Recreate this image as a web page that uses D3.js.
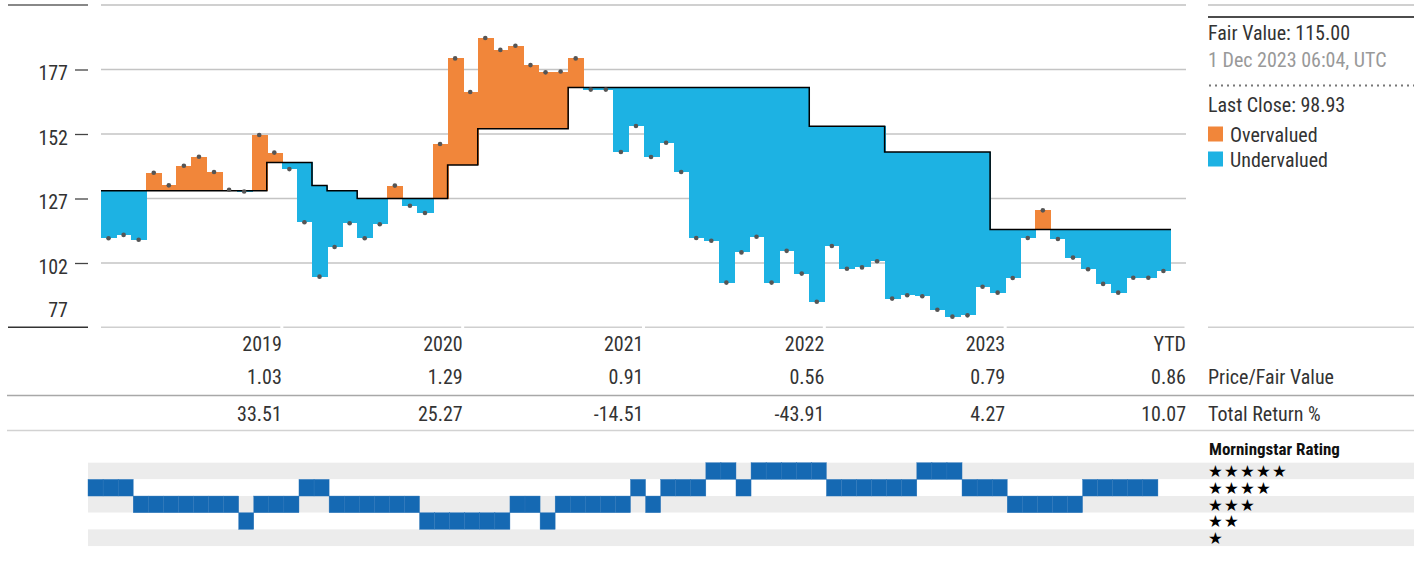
<!DOCTYPE html>
<html><head><meta charset="utf-8">
<script src="https://cdn.jsdelivr.net/npm/d3@7"></script>
<style>html,body{margin:0;padding:0;background:#fff;} svg{display:block;}</style>
</head><body><svg id="c" width="1414" height="562"></svg>
<script>
// ---- data ----
const priceValues = [111.6,112.9,111.0,137.0,132.1,139.7,143.2,137.3,130.4,129.7,
  151.6,144.8,138.4,117.8,96.7,108.2,117.4,111.6,117.0,132.0,
  124.2,121.4,148.1,181.3,168.3,189.2,184.6,186.2,178.7,175.9,
  176.2,181.3,169.2,169.2,145.0,155.1,143.1,148.6,137.3,111.7,
  110.6,94.4,106.1,112.2,94.4,106.7,97.9,87.0,108.6,99.8,
  100.3,102.7,88.2,89.5,89.1,83.9,81.2,81.7,92.8,90.5,
  96.2,111.7,122.4,111.3,104.1,99.6,93.9,90.5,96.3,96.3,98.9];
const fairValues = [130,130,130,130,130,130,130,130,130,130,
  130,141,141,141,132,130,130,127,127,127,
  127,127,127,140,140,154,154,154,154,154,
  154,170,170,170,170,170,170,170,170,170,
  170,170,170,170,170,170,170,155,155,155,
  155,155,145,145,145,145,145,145,145,115,
  115,115,115,115,115,115,115,115,115,115,115];
const starRatings = [4,4,4,3,3,3,3,3,3,3,
  2,3,3,3,4,4,3,3,3,3,
  3,3,2,2,2,2,2,2,3,3,
  2,3,3,3,3,3,4,3,4,4,
  4,5,5,4,5,5,5,5,5,4,
  4,4,4,4,4,5,5,5,4,4,
  4,3,3,3,3,3,4,4,4,4,4];
const monthCount = 72;
const yTicks = [102,127,152,177];
const yBottomLabel = "77";
const tableYears = ["2019","2020","2021","2022","2023","YTD"];
const priceFair = ["1.03","1.29","0.91","0.56","0.79","0.86"];
const totalReturn = ["33.51","25.27","-14.51","-43.91","4.27","10.07"];
const starLabels = ["★★★★★","★★★★","★★★","★★","★"];
const fairValueText = "Fair Value: 115.00";
const dateText = "1 Dec 2023 06:04, UTC";
const lastCloseText = "Last Close: 98.93";
const legendItems = ["Overvalued","Undervalued"];

// ---- setup ----
const FONT = "'Liberation Sans Narrow','Roboto Condensed','DejaVu Sans Condensed','Liberation Sans',sans-serif";
const ORANGE = "#f1863a", BLUE = "#1db2e3", RBLUE = "#1569b3", TXT = "#333";
const svg = d3.select("#c").style("font-family", FONT);

const x = d3.scaleBand().domain(d3.range(monthCount)).range([101, 1186]);
const xr = d3.scaleBand().domain(d3.range(monthCount)).range([88, 1173]);
const step = x.step();
const y = d3.scaleLinear().domain([77, 202]).range([327.5, 5]);

// frame lines
svg.append("line").attr("x1",8).attr("x2",88).attr("y1",5).attr("y2",5).attr("stroke","#888").attr("stroke-width",2);
svg.append("line").attr("x1",101).attr("x2",1186).attr("y1",5).attr("y2",5).attr("stroke","#d0d0d0").attr("stroke-width",2);
svg.append("line").attr("x1",1208).attr("x2",1414).attr("y1",5).attr("y2",5).attr("stroke","#d0d0d0").attr("stroke-width",2);

// gridlines
svg.append("g").selectAll("line").data(yTicks).join("line")
  .attr("x1",101).attr("x2",1186).attr("y1",d=>y(d)).attr("y2",d=>y(d))
  .attr("stroke","#c4c4c4").attr("stroke-width",1.3);

// y axis
const yAxis = d3.axisLeft(y).tickValues(yTicks).tickSize(13).tickPadding(7).tickFormat(d3.format("d"));
const ga = svg.append("g").attr("transform","translate(88,0)").call(yAxis);
ga.select(".domain").remove();
ga.selectAll(".tick line").attr("stroke","#444").attr("stroke-width",1.3);
ga.selectAll(".tick text").attr("fill",TXT).attr("font-size",20).attr("font-family",FONT).attr("dy","0.52em");
svg.append("text").attr("x",68).attr("y",317).attr("text-anchor","end").attr("font-size",20).attr("fill",TXT).text(yBottomLabel);

// fills
svg.append("g").attr("shape-rendering","crispEdges").selectAll("rect").data(priceValues).join("rect")
  .attr("x",(d,i)=>x(i)).attr("width",(d,i)=> i===priceValues.length-1 ? step : step+1)
  .attr("y",(d,i)=>y(Math.max(d,fairValues[i])))
  .attr("height",(d,i)=>Math.abs(y(d)-y(fairValues[i])))
  .attr("fill",(d,i)=> d>=fairValues[i] ? ORANGE : BLUE);

// fair value step line
const fvPts = fairValues.map((v,i)=>[x(i), y(v)]);
fvPts.push([x(fairValues.length-1)+step, y(fairValues[fairValues.length-1])]);
svg.append("path").attr("d", d3.line().curve(d3.curveStepAfter)(fvPts))
  .attr("fill","none").attr("stroke","#000").attr("stroke-width",1.5);

// dots
svg.append("g").selectAll("circle").data(priceValues).join("circle")
  .attr("cx",(d,i)=>x(i)+step/2).attr("cy",d=>y(d)).attr("r",2.3).attr("fill","#555");

// table
const colEdge = k => 101 + step*12*k;
svg.append("line").attr("x1",8).attr("x2",88).attr("y1",327.3).attr("y2",327.3).attr("stroke","#333").attr("stroke-width",1.5);
svg.append("g").selectAll("line").data(tableYears).join("line")
  .attr("x1",(d,k)=>colEdge(k)+(k?1.5:0)).attr("x2",(d,k)=>colEdge(k+1)-1.5)
  .attr("y1",327.3).attr("y2",327.3).attr("stroke","#cfcfcf").attr("stroke-width",1.5);
svg.append("line").attr("x1",1208).attr("x2",1414).attr("y1",327.3).attr("y2",327.3).attr("stroke","#cfcfcf").attr("stroke-width",1.5);
svg.append("line").attr("x1",7).attr("x2",1414).attr("y1",395.5).attr("y2",395.5).attr("stroke","#a8a8a8").attr("stroke-width",1.3);
svg.append("line").attr("x1",7).attr("x2",1414).attr("y1",430.5).attr("y2",430.5).attr("stroke","#d2d2d2").attr("stroke-width",1.5);

const rows = [[tableYears,351],[priceFair,384],[totalReturn,421]];
rows.forEach(([arr,by])=>{
  svg.append("g").selectAll("text").data(arr).join("text")
    .attr("x",(d,k)=>colEdge(k+1)).attr("y",by).attr("text-anchor","end")
    .attr("font-size",20).attr("fill",TXT).text(d=>d);
});
svg.append("text").attr("x",1208).attr("y",384).attr("font-size",20).attr("fill",TXT).text("Price/Fair Value");
svg.append("text").attr("x",1208).attr("y",421).attr("font-size",20).attr("fill",TXT).text("Total Return %");

// legend
svg.append("line").attr("x1",1208).attr("x2",1414).attr("y1",17).attr("y2",17).attr("stroke","#111").attr("stroke-width",1.6);
svg.append("text").attr("x",1208).attr("y",40).attr("font-size",20).attr("fill",TXT).text(fairValueText);
svg.append("text").attr("x",1208).attr("y",66.5).attr("font-size",20).attr("fill","#999").text(dateText);
svg.append("line").attr("x1",1209).attr("x2",1414).attr("y1",85.5).attr("y2",85.5)
  .attr("stroke","#777").attr("stroke-width",2.2).attr("stroke-dasharray","2,4");
svg.append("text").attr("x",1208).attr("y",111.5).attr("font-size",20).attr("fill",TXT).text(lastCloseText);
const lg = svg.append("g").selectAll("g").data(legendItems).join("g")
  .attr("transform",(d,i)=>`translate(1208,${126.5+i*25})`);
lg.append("rect").attr("width",15).attr("height",15).attr("fill",(d,i)=>i?BLUE:ORANGE);
lg.append("text").attr("x",22).attr("y",15).attr("font-size",20).attr("fill",TXT).text(d=>d);

// rating strip
const rowH = 16.67, rTop = 462.7;
const ry = r => rTop + (5-r)*rowH;
svg.append("g").selectAll("rect").data([5,4,3,2,1]).join("rect")
  .attr("x",88).attr("width",1414-88).attr("y",d=>ry(d)).attr("height",rowH)
  .attr("fill",(d,i)=> i%2===0 ? "#ececec" : "#fff");
svg.append("g").selectAll("rect").data(starRatings).join("rect")
  .attr("x",(d,i)=>xr(i)).attr("width",xr.step()).attr("y",d=>ry(d)).attr("height",rowH)
  .attr("fill",RBLUE).attr("stroke","#2a74b8").attr("stroke-width",0.4);
svg.append("text").attr("x",1209).attr("y",455).attr("font-size",17).attr("font-weight","bold").attr("fill","#111").text("Morningstar Rating");
svg.append("g").selectAll("text").data(starLabels).join("text")
  .attr("x",1208).attr("y",(d,i)=>rTop + i*rowH + rowH/2 + 6.3)
  .attr("font-family","'DejaVu Sans',sans-serif").attr("font-size",16.5).attr("letter-spacing",1.2)
  .attr("fill","#000").text(d=>d);
</script></body></html>
